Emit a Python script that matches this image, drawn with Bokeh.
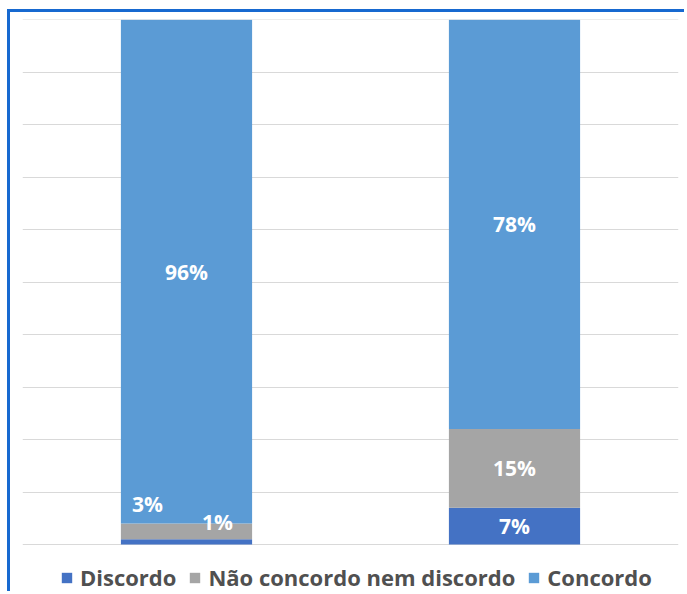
from bokeh.plotting import figure
from bokeh.models import ColumnDataSource, FactorRange, Range1d, Legend, LegendItem, SingleIntervalTicker
from bokeh.core.properties import value
from bokeh.embed import file_html
from bokeh.resources import INLINE

groups = ["Grupo 1", "Grupo 2"]
series = ["Discordo", "Não concordo nem discordo", "Concordo"]
discordo = [1, 7]
neutro = [3, 15]
concordo = [96, 78]
colors = ["#4472C4", "#A5A5A5", "#5B9BD5"]

src = ColumnDataSource(dict(g=groups, Discordo=discordo,
                            Neutro=neutro, Concordo=concordo))

# frame spans down to the bottom of the page; the space below 0 holds the legend
p = figure(x_range=FactorRange(*groups, range_padding=0), y_range=Range1d(-9.524, 100.05),
           width=677, height=582, output_backend="svg", toolbar_location=None,
           min_border_left=12, min_border_right=9, min_border_top=7, min_border_bottom=0)
p.margin = (9, 0, 0, 7)
p.styles = {"border-top": "3px solid #1769D0", "border-left": "3px solid #1769D0"}

rs = p.vbar_stack(["Discordo", "Neutro", "Concordo"], x="g", width=0.4, color=colors,
                  line_color=None, source=src)

# labels
lab_x, lab_y, lab_t = [], [], []
for i, gname in enumerate(groups):
    base = 0
    for vals in (discordo, neutro, concordo):
        v = vals[i]
        lab_x.append(gname)
        lab_y.append(base + v / 2)
        lab_t.append(f"{v}%")
        base += v
lab_src = ColumnDataSource(dict(x=lab_x, y=lab_y, t=lab_t,
                                xo=[31, -39, 0, 0, 0, 0], yo=[-20, -27, 0, 0, 0, 0]))
p.text(x="x", y="y", text="t", x_offset="xo", y_offset="yo", source=lab_src,
       text_color="white", text_font=value("Open Sans"), text_font_style="bold",
       text_font_size="21px", text_align="center", text_baseline="middle")

p.xaxis.visible = False
p.yaxis.visible = False
p.xgrid.grid_line_color = None
p.ygrid.ticker = SingleIntervalTicker(interval=10)
p.ygrid.grid_line_color = "#D9D9D9"
p.ygrid.grid_line_width = 1
p.outline_line_color = None

legend = Legend(items=[LegendItem(label=s, renderers=[r]) for s, r in zip(series, rs)],
                orientation="horizontal", location=(38, 2))
legend.label_text_font = "Open Sans"
legend.label_text_font_style = "bold"
legend.label_text_font_size = "22px"
legend.label_text_color = "#505050"
legend.glyph_width = 13
legend.glyph_height = 13
legend.label_standoff = 7
legend.spacing = 12
legend.padding = 0
legend.margin = 0
legend.border_line_color = None
legend.background_fill_alpha = 0
p.add_layout(legend, "center")

open("out.html", "w").write(file_html(p, INLINE))
